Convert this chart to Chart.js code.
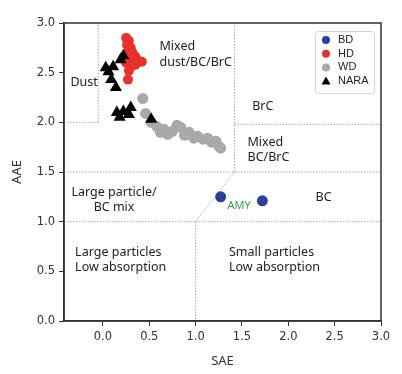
<!DOCTYPE html>
<html>
<head>
<meta charset="utf-8">
<script src="https://cdn.jsdelivr.net/npm/chart.js@4/dist/chart.umd.min.js"></script>
<style>
  html, body { margin: 0; padding: 0; background: #fff; overflow: hidden; }
  #wrap { width: 402px; height: 374px; }
</style>
</head>
<body>
<div id="wrap"><canvas id="c"></canvas></div>
<script>
// SAE (x) / AAE (y) pairs
const bdPoints = [[1.27, 1.25], [1.72, 1.21]];
const hdPoints = [
  [0.25, 2.85], [0.28, 2.82], [0.26, 2.78], [0.30, 2.75], [0.28, 2.72],
  [0.32, 2.70], [0.27, 2.68], [0.35, 2.66], [0.30, 2.65], [0.38, 2.62],
  [0.42, 2.61], [0.33, 2.60], [0.25, 2.60], [0.30, 2.56], [0.35, 2.58],
  [0.28, 2.52], [0.27, 2.43]
];
const wdPoints = [
  [0.43, 2.24], [0.46, 2.09], [0.52, 2.00], [0.58, 1.96], [0.62, 1.90],
  [0.66, 1.93], [0.70, 1.88], [0.75, 1.91], [0.80, 1.97], [0.84, 1.95],
  [0.88, 1.87], [0.93, 1.90], [0.98, 1.84], [1.02, 1.86], [1.08, 1.83],
  [1.13, 1.84], [1.17, 1.80], [1.22, 1.81], [1.25, 1.76], [1.27, 1.74]
];
const naraPoints = [
  [0.03, 2.55], [0.06, 2.51], [0.11, 2.56], [0.09, 2.43], [0.14, 2.35],
  [0.19, 2.63], [0.22, 2.67], [0.15, 2.10], [0.18, 2.05], [0.22, 2.11],
  [0.28, 2.08], [0.30, 2.15], [0.52, 2.03]
];
const xTickValues = [0, 0.5, 1.0, 1.5, 2.0, 2.5, 3.0];

// classification boundaries, in SAE/AAE units
const boundaries = [
  [[-0.42, 2.0], [-0.05, 2.0]],
  [[-0.05, 2.0], [-0.05, 3.0]],
  [[1.42, 3.0], [1.42, 1.5]],
  [[1.42, 1.98], [3.0, 1.98]],
  [[-0.42, 1.5], [3.0, 1.5]],
  [[1.42, 1.5], [1.0, 1.0]],
  [[-0.42, 1.0], [3.0, 1.0]],
  [[1.0, 1.0], [1.0, 0.0]]
];

// region names: text, SAE, AAE, alignment
const regionLabels = [
  ['Dust', -0.35, 2.40, 'left'],
  ['Mixed', 0.61, 2.76, 'left'],
  ['dust/BC/BrC', 0.61, 2.60, 'left'],
  ['BrC', 1.61, 2.16, 'left'],
  ['Mixed', 1.56, 1.80, 'left'],
  ['BC/BrC', 1.56, 1.65, 'left'],
  ['Large particle/', 0.12, 1.29, 'center'],
  ['BC mix', 0.12, 1.14, 'center'],
  ['BC', 2.38, 1.24, 'center'],
  ['Large particles', -0.30, 0.69, 'left'],
  ['Low absorption', -0.30, 0.54, 'left'],
  ['Small particles', 1.36, 0.69, 'left'],
  ['Low absorption', 1.36, 0.54, 'left']
];
const amyLabel = ['AMY', 1.47, 1.16];

const toXY = (arr) => arr.map(p => ({x: p[0], y: p[1]}));

const regionPlugin = {
  id: 'regions',
  beforeDatasetsDraw(chart) {
    const {ctx, scales: {x, y}} = chart;
    ctx.save();
    ctx.strokeStyle = '#a8a8a8';
    ctx.lineWidth = 1;
    ctx.setLineDash([1.5, 1.5]);
    boundaries.forEach(([p, q]) => {
      ctx.beginPath();
      ctx.moveTo(x.getPixelForValue(p[0]), y.getPixelForValue(p[1]));
      ctx.lineTo(x.getPixelForValue(q[0]), y.getPixelForValue(q[1]));
      ctx.stroke();
    });
    ctx.setLineDash([]);
    ctx.font = '12.5px "Noto Sans", sans-serif';
    ctx.fillStyle = '#222';
    ctx.textBaseline = 'middle';
    regionLabels.forEach(([t, sx, sy, al]) => {
      ctx.textAlign = al;
      ctx.fillText(t, x.getPixelForValue(sx), y.getPixelForValue(sy));
    });
    ctx.fillStyle = '#3a9a55';
    ctx.textAlign = 'center';
    ctx.font = '11px "Noto Sans", sans-serif';
    ctx.fillText(amyLabel[0], x.getPixelForValue(amyLabel[1]), y.getPixelForValue(amyLabel[2]));
    ctx.restore();
  },
  afterDraw(chart) {
    const {ctx, chartArea: a} = chart;
    ctx.save();
    ctx.strokeStyle = '#333';
    ctx.lineWidth = 1.5;
    ctx.strokeRect(a.left, a.top, a.right - a.left, a.bottom - a.top);

    // legend box inside the plot, top right
    const bx = 315, by = 31, bw = 59, bh = 62;
    ctx.lineWidth = 1;
    ctx.strokeStyle = '#d4d4d4';
    ctx.fillStyle = '#fff';
    ctx.beginPath();
    ctx.roundRect(bx + 0.5, by + 0.5, bw, bh, 3);
    ctx.fill();
    ctx.stroke();
    ctx.font = '11px "Liberation Sans", Arial, sans-serif';
    ctx.textAlign = 'left';
    ctx.textBaseline = 'middle';
    chart.data.datasets.forEach((ds, i) => {
      const cy = by + 9 + i * 13.7;
      const cx = bx + 11;
      ctx.fillStyle = ds.backgroundColor;
      ctx.beginPath();
      if (ds.pointStyle === 'triangle') {
        ctx.moveTo(cx, cy - 4.5);
        ctx.lineTo(cx + 4.5, cy + 3.5);
        ctx.lineTo(cx - 4.5, cy + 3.5);
        ctx.closePath();
      } else {
        ctx.arc(cx, cy, 4, 0, Math.PI * 2);
      }
      ctx.fill();
      ctx.fillStyle = '#222';
      ctx.fillText(ds.label, bx + 23, cy);
    });
    ctx.restore();
  }
};

new Chart(document.getElementById('c'), {
  type: 'scatter',
  data: {
    datasets: [
      {label: 'BD', data: toXY(bdPoints), backgroundColor: '#2c3f9c', borderWidth: 0, pointRadius: 5.5, order: 1},
      {label: 'HD', data: toXY(hdPoints), backgroundColor: '#e8302c', borderWidth: 0, pointRadius: 5, order: 2},
      {label: 'WD', data: toXY(wdPoints), backgroundColor: '#a9a9a9', borderWidth: 0, pointRadius: 5.5, order: 1},
      {label: 'NARA', data: toXY(naraPoints), backgroundColor: '#000', borderWidth: 0, pointRadius: 7, pointStyle: 'triangle', order: 0}
    ]
  },
  options: {
    animation: false,
    responsive: true,
    maintainAspectRatio: false,
    layout: {padding: {top: 23, right: 21, left: 0, bottom: 0}},
    scales: {
      x: {
        type: 'linear',
        min: -0.42,
        max: 3.0,
        afterBuildTicks: (s) => { s.ticks = xTickValues.map(v => ({value: v})); },
        afterFit: (s) => { s.height = 53; },
        ticks: {
          callback: (v) => v.toFixed(1),
          color: '#333',
          font: {family: '"DejaVu Sans", sans-serif', size: 11.5},
          padding: 4,
          maxRotation: 0
        },
        grid: {drawOnChartArea: false, drawTicks: true, tickLength: 5, color: '#333'},
        border: {color: '#333', width: 1.5},
        title: {
          display: true,
          text: 'SAE',
          color: '#333',
          font: {family: '"Noto Sans", sans-serif', size: 13},
          padding: {top: 4, bottom: 5}
        }
      },
      y: {
        min: 0,
        max: 3.0,
        afterFit: (s) => { s.width = 64; },
        ticks: {
          stepSize: 0.5,
          callback: (v) => v.toFixed(1),
          color: '#333',
          font: {family: '"DejaVu Sans", sans-serif', size: 11.5},
          padding: 4
        },
        grid: {drawOnChartArea: false, drawTicks: true, tickLength: 5, color: '#333'},
        border: {color: '#333', width: 1.5},
        title: {
          display: true,
          text: 'AAE',
          color: '#333',
          font: {family: '"Noto Sans", sans-serif', size: 13},
          padding: {top: 9, bottom: 4}
        }
      }
    },
    plugins: {
      legend: {display: false},
      tooltip: {enabled: false}
    }
  },
  plugins: [regionPlugin]
});
</script>
</body>
</html>
